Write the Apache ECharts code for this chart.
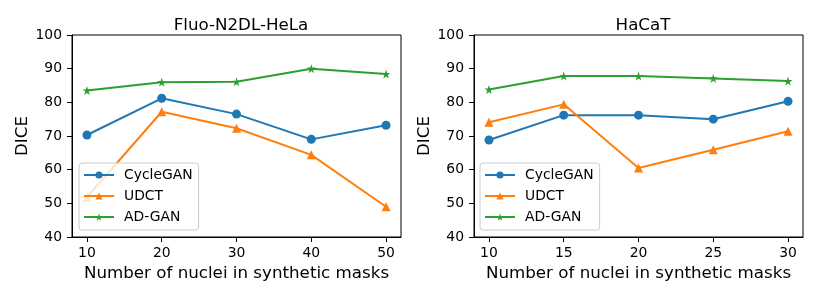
<!DOCTYPE html>
<html><head><meta charset="utf-8">
<script src="https://cdn.jsdelivr.net/npm/echarts@6/dist/echarts.min.js"></script>
<style>html,body{margin:0;padding:0;background:#fff}#c{width:817px;height:296px}</style>
</head><body><div id="c"></div>
<script>
const seriesNames = ['CycleGAN', 'UDCT', 'AD-GAN'];
const titles = ['Fluo-N2DL-HeLa', 'HaCaT'];
const xLeft = [10, 20, 30, 40, 50];
const xRight = [10, 15, 20, 25, 30];
const yTicks = [40, 50, 60, 70, 80, 90, 100];
const leftCycleGAN = [70.3, 81.2, 76.5, 69.0, 73.2];
const leftUDCT = [51.8, 77.2, 72.3, 64.4, 49.0];
const leftADGAN = [83.5, 86.0, 86.1, 90.0, 88.4];
const rightCycleGAN = [68.8, 76.2, 76.2, 75.0, 80.3];
const rightUDCT = [74.1, 79.4, 60.5, 65.9, 71.4];
const rightADGAN = [83.8, 87.8, 87.8, 87.1, 86.3];

const colors = ['#1f77b4', '#ff7f0e', '#2ca02c'];
const star = 'path://M50,0 L61.8,35.5 L100,36.3 L69.1,58.8 L80.9,95.1 L50,73 L19.1,95.1 L30.9,58.8 L0,36.3 L38.2,35.5 Z';
const symbols = ['circle', 'triangle', star];
const symbolSizes = [9, 9, 9];
const font = 'DejaVu Sans';

function xAxis(gridIndex, xs) {
  const span = xs[xs.length - 1] - xs[0];
  return {
    type: 'value', gridIndex,
    min: xs[0] - span * 0.05, max: xs[xs.length - 1] + span * 0.05,
    name: 'Number of nuclei in synthetic masks', nameLocation: 'middle', nameGap: 26,
    nameTextStyle: { fontFamily: font, fontSize: 16.7, color: '#000' },
    axisLine: { show: true, onZero: false, lineStyle: { color: '#000', width: 1 } },
    axisTick: { show: true, length: 5, lineStyle: { color: '#000' }, customValues: xs },
    axisLabel: { fontFamily: font, fontSize: 13.9, color: '#000', margin: 9, customValues: xs },
    splitLine: { show: false }
  };
}
function yAxis(gridIndex) {
  return {
    type: 'value', gridIndex, min: yTicks[0], max: yTicks[yTicks.length - 1], interval: 10,
    name: 'DICE', nameLocation: 'middle', nameGap: 41,
    nameTextStyle: { fontFamily: font, fontSize: 16.7, color: '#000' },
    axisLine: { show: true, lineStyle: { color: '#000', width: 1 } },
    axisTick: { show: true, length: 5, lineStyle: { color: '#000' } },
    axisLabel: { fontFamily: font, fontSize: 13.9, color: '#000', margin: 10 },
    splitLine: { show: false }
  };
}
function mk(name, idx, xs, ys, gi) {
  return {
    name, type: 'line', xAxisIndex: gi, yAxisIndex: gi,
    data: xs.map((x, i) => [x, ys[i]]),
    symbol: symbols[idx], symbolSize: symbolSizes[idx], showSymbol: true,
    lineStyle: { color: colors[idx], width: 2 },
    itemStyle: { color: colors[idx], borderWidth: 0 },
    z: 2 + idx, animation: false
  };
}
function legend(left) {
  return {
    left, top: 163, orient: 'vertical', data: seriesNames,
    itemWidth: 30, itemHeight: 9, itemGap: 7,
    padding: [5, 6, 6, 4],
    backgroundColor: 'rgba(255,255,255,0.8)', borderColor: '#ccc', borderWidth: 1, borderRadius: 3,
    textStyle: { fontFamily: font, fontSize: 13.9, color: '#000', padding: [0, 0, 0, 5] },
    selectedMode: false
  };
}
const chart = echarts.init(document.getElementById('c'), null, { renderer: 'canvas' });
chart.setOption({
  animation: false,
  color: colors,
  title: [
    { text: titles[0], left: 236, top: 12, textAlign: 'center', textStyle: { fontFamily: font, fontSize: 16.7, fontWeight: 'normal', color: '#000' } },
    { text: titles[1], left: 638, top: 12, textAlign: 'center', textStyle: { fontFamily: font, fontSize: 16.7, fontWeight: 'normal', color: '#000' } }
  ],
  grid: [
    { left: 72, right: 416, top: 35, bottom: 59, show: true, borderColor: '#000', borderWidth: 1, backgroundColor: 'transparent' },
    { left: 474, right: 14, top: 35, bottom: 59, show: true, borderColor: '#000', borderWidth: 1, backgroundColor: 'transparent' }
  ],
  xAxis: [xAxis(0, xLeft), xAxis(1, xRight)],
  yAxis: [yAxis(0), yAxis(1)],
  legend: [legend(79), legend(480)],
  series: [
    mk('CycleGAN', 0, xLeft, leftCycleGAN, 0),
    mk('UDCT', 1, xLeft, leftUDCT, 0),
    mk('AD-GAN', 2, xLeft, leftADGAN, 0),
    mk('CycleGAN', 0, xRight, rightCycleGAN, 1),
    mk('UDCT', 1, xRight, rightUDCT, 1),
    mk('AD-GAN', 2, xRight, rightADGAN, 1)
  ]
});
</script></body></html>
